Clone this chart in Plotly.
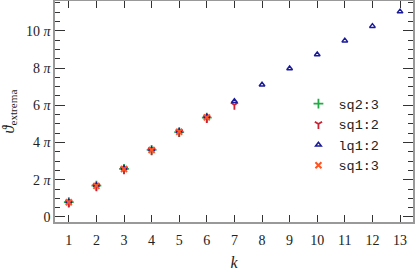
import plotly.graph_objects as go

k_short = [1, 2, 3, 4, 5, 6]
k_seven = [1, 2, 3, 4, 5, 6, 7]
k_long = [1, 2, 3, 4, 5, 6, 7, 8, 9, 10, 11, 12, 13]

# values in units of pi
sq23 = [0.80, 1.68, 2.58, 3.60, 4.56, 5.34]
sq12 = [0.76, 1.64, 2.55, 3.57, 4.55, 5.31, 6.02]
lq12 = [0.82, 1.71, 2.62, 3.63, 4.60, 5.38, 6.22, 7.10, 7.97, 8.73, 9.47, 10.25, 11.03]
sq13 = [0.79, 1.67, 2.58, 3.60, 4.58, 5.35]

ytick_vals = [0, 2, 4, 6, 8, 10]
ytick_text = ["0", "2 <i>π</i>", "4 <i>π</i>", "6 <i>π</i>", "8 <i>π</i>", "10 <i>π</i>"]

SERIF = "Liberation Serif, Times New Roman, serif"

fig = go.Figure()
fig.add_trace(go.Scatter(x=k_short, y=sq23, mode="markers", name="sq2:3",
                         marker=dict(symbol="cross-thin-open", size=7, color="#22aa44",
                                     line=dict(width=1.8, color="#22aa44"))))
fig.add_trace(go.Scatter(x=k_seven, y=sq12, mode="markers", name="sq1:2",
                         marker=dict(symbol="y-down-open", size=6, color="#cc2233",
                                     line=dict(width=1.8, color="#cc2233"))))
fig.add_trace(go.Scatter(x=k_long, y=lq12, mode="markers", name="lq1:2",
                         marker=dict(symbol="triangle-up-open", size=5, color="#1a1a99",
                                     line=dict(width=1.5, color="#1a1a99"))))
fig.add_trace(go.Scatter(x=k_short, y=sq13, mode="markers", name="sq1:3",
                         marker=dict(symbol="x-thin-open", size=6, color="#ff5522",
                                     line=dict(width=2, color="#ff5522"))))

axis_common = dict(showline=True, linecolor="#999999", linewidth=1.5, mirror="ticks",
                   ticks="inside", tickcolor="#333333", tickwidth=1, showgrid=False,
                   zeroline=False, automargin=False,
                   tickfont=dict(family=SERIF, size=14, color="#222"))

fig.update_xaxes(range=[0.5, 13.47], tickvals=k_long, ticklen=7, ticklabelstandoff=4,
                 title=dict(text="<i>k</i>", font=dict(family=SERIF, size=16, color="#222"),
                            standoff=12),
                 **axis_common)
fig.update_yaxes(range=[-0.27, 11.6], tickvals=ytick_vals, ticktext=ytick_text, ticklen=10,
                 minor=dict(dtick=0.5, tick0=0, ticks="inside", ticklen=5, tickcolor="#333333"),
                 title=dict(text="<i>ϑ</i><sub>extrema</sub>",
                            font=dict(family=SERIF, size=16, color="#222"), standoff=10),
                 **axis_common)

fig.update_layout(width=415, height=271, margin=dict(l=55, r=2, t=1, b=49),
                  paper_bgcolor="white", plot_bgcolor="white", showlegend=True,
                  legend=dict(x=0.68, y=0.605, xanchor="left", yanchor="top",
                              bgcolor="rgba(0,0,0,0)", tracegroupgap=0,
                              font=dict(family="Liberation Mono, Courier New, monospace", size=13.5, color="#222")))

fig.write_html("out.html", config={"displayModeBar": False},
               post_script="document.body.style.margin='0';document.body.style.padding='0';")
